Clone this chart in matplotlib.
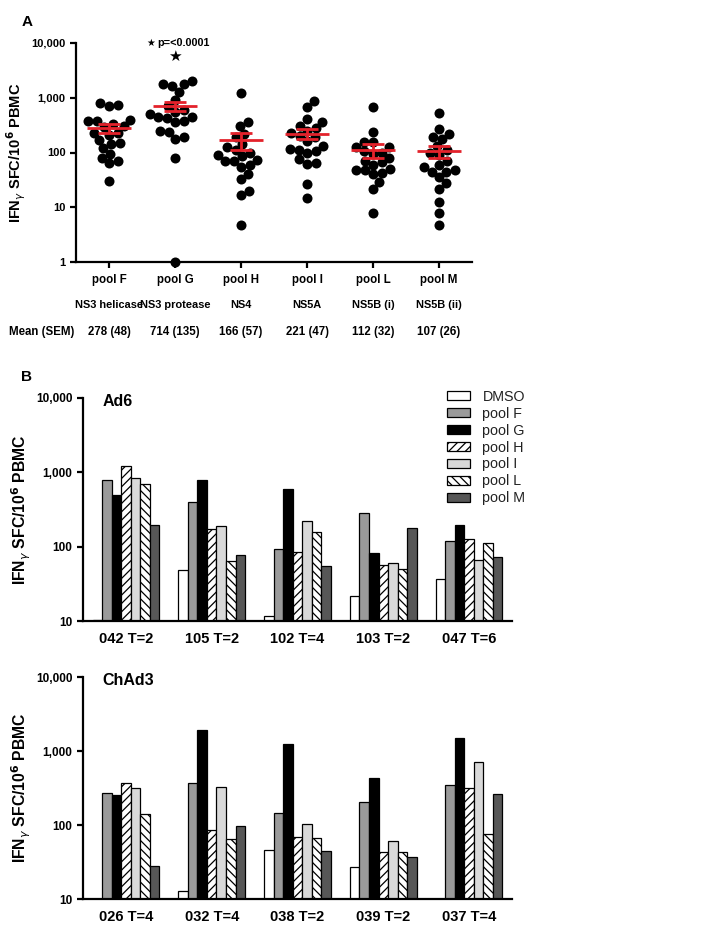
import numpy as np
import matplotlib
matplotlib.use("Agg")
import matplotlib.pyplot as plt
from matplotlib.ticker import FixedLocator, FuncFormatter, NullLocator
from matplotlib.transforms import blended_transform_factory

plt.rcParams["font.family"] = ["Liberation Sans", "DejaVu Sans"]
plt.rcParams["hatch.linewidth"] = 0.9

# ---- panel A data (IFNg SFC / 10^6 PBMC per volunteer) ----
pool_names = ["pool F", "pool G", "pool H", "pool I", "pool L", "pool M"]
regions = ["NS3 helicase", "NS3 protease", "NS4", "NS5A", "NS5B (i)", "NS5B (ii)"]
means = [278, 714, 166, 221, 112, 107]
sems = [48, 135, 57, 47, 32, 26]

pool_F = [790, 700, 750, 380, 330, 370, 400, 300, 290, 230, 210, 230, 170, 140, 150, 120, 95, 70, 63, 80, 30]
pool_G = [1800, 1650, 1750, 2000, 1270, 900, 700, 550, 440, 440, 360, 430, 600, 500, 380, 245, 190, 178, 235, 80, 1]
pool_H = [1220, 360, 310, 220, 190, 145, 125, 110, 100, 90, 85, 71, 73, 71, 60, 55, 41, 33, 19.6, 17, 4.75]
pool_I = [860, 690, 410, 360, 310, 280, 250, 230, 200, 190, 160, 130, 115, 110, 105, 97, 75, 63, 61, 27, 14.6]
pool_L = [690, 235, 155, 155, 125, 125, 105, 100, 95, 80, 70, 66, 60, 50, 48, 47, 42, 41, 29, 22, 7.8]
pool_M = [525, 270, 220, 195, 178, 130, 110, 100, 90, 70, 60, 54, 47, 44, 44, 35, 27.7, 22, 12.3, 7.8, 4.8]
pool_values = [pool_F, pool_G, pool_H, pool_I, pool_L, pool_M]

# ---- panel B data ----
stimuli = ["DMSO", "pool F", "pool G", "pool H", "pool I", "pool L", "pool M"]
ad6_groups = ["042 T=2", "105 T=2", "102 T=4", "103 T=2", "047 T=6"]
ad6_dmso = [10.3, 48, 11.7, 21.8, 37]
ad6_F = [780, 400, 93, 285, 120]
ad6_G = [490, 800, 600, 82, 197]
ad6_H = [1230, 173, 85, 56, 128]
ad6_I = [850, 192, 222, 60, 67]
ad6_L = [700, 64, 156, 50, 111]
ad6_M = [195, 78, 55, 181, 73]

chad3_groups = ["026 T=4", "032 T=4", "038 T=2", "039 T=2", "037 T=4"]
chad3_dmso = [np.nan, 12.8, 46, 26.7, np.nan]
chad3_F = [272, 364, 147, 206, 349]
chad3_G = [252, 1940, 1260, 434, 1480]
chad3_H = [364, 86.5, 69, 42.5, 318]
chad3_I = [318, 328, 102, 61.5, 710]
chad3_L = [142, 64, 66, 42.5, 75]
chad3_M = [27.5, 97, 44, 36.7, 261]

bar_face = ["white", "#9a9a9a", "black", "white", "#d9d9d9", "white", "#575757"]
bar_hatch = [None, None, None, "////", None, "\\\\\\\\", None]

red = "#e3222b"
ylabel = r"IFN$_\gamma$ SFC/10$^{\mathbf{6}}$ PBMC"
fmt = FuncFormatter(lambda v, p: f"{int(round(v)):,}")


def style_log_axis(ax, ticks, size):
    ax.set_yscale("log")
    ax.yaxis.set_major_locator(FixedLocator(ticks))
    ax.yaxis.set_minor_locator(NullLocator())
    ax.yaxis.set_major_formatter(fmt)
    for s in ["top", "right"]:
        ax.spines[s].set_visible(False)
    for s in ["left", "bottom"]:
        ax.spines[s].set_linewidth(1.6)
    ax.tick_params(width=1.6, length=4, labelsize=size)
    for lab in ax.get_yticklabels() + ax.get_xticklabels():
        lab.set_fontweight("bold")


def swarm_x(ax, xc, values, d):
    pts = ax.transData.transform(np.column_stack([np.full(len(values), xc), values]))
    ys = pts[:, 1]
    x0 = pts[0, 0]
    placed = []
    offs = np.zeros(len(values))
    for i in np.argsort(ys):
        y = ys[i]
        cands = [0.0]
        for px, py in placed:
            dy = abs(y - py)
            if dy < d:
                dx = np.sqrt(d * d - dy * dy)
                cands += [px + dx, px - dx]
        cands.sort(key=abs)
        for c in cands:
            if all((c - px) ** 2 + (y - py) ** 2 >= d * d - 1e-6 for px, py in placed):
                break
        placed.append((c, y))
        offs[i] = c
    return ax.transData.inverted().transform(np.column_stack([x0 + offs, ys]))[:, 0]


fig = plt.figure(figsize=(7.27, 9.39), dpi=100)

# ---------------- panel A ----------------
axA = fig.add_axes([76 / 727, 1 - 262 / 939, 396 / 727, 219 / 939])
axA.set_xlim(-0.5, 5.5)
axA.set_ylim(1, 10000)
style_log_axis(axA, [1, 10, 100, 1000, 10000], 8)
axA.set_xticks(range(6))
axA.set_xticklabels([])

for i, vals in enumerate(pool_values):
    xs = swarm_x(axA, i, vals, 9.0)
    axA.scatter(xs, vals, s=52, color="black", zorder=2, clip_on=False, linewidths=0)
    m, s = means[i], sems[i]
    axA.hlines(m, i - 0.33, i + 0.33, color=red, lw=2, zorder=3)
    axA.hlines([m - s, m + s], i - 0.17, i + 0.17, color=red, lw=2, zorder=3)
    axA.vlines(i, m - s, m + s, color=red, lw=2, zorder=3)

axA.set_ylabel(ylabel, fontsize=10.5, fontweight="bold")
axA.yaxis.set_label_coords(-48 / 396, 0.5)

row_size = 7.9
tr = blended_transform_factory(axA.transData, axA.transAxes)
for i in range(6):
    axA.text(i, -0.082, pool_names[i], transform=tr, ha="center", va="center",
             fontsize=row_size + 0.4, fontweight="bold")
    axA.text(i, -0.196, regions[i], transform=tr, ha="center", va="center",
             fontsize=row_size, fontweight="bold")
    axA.text(i, -0.32, f"{means[i]} ({sems[i]})", transform=tr, ha="center",
             va="center", fontsize=row_size + 0.4, fontweight="bold")
fig.text(9 / 727, 1 - 332 / 939, "Mean (SEM)", ha="left", va="center",
         fontsize=row_size + 0.4, fontweight="bold")

axA.text(1, 5600, "\u2605", ha="center", va="center", fontsize=11,
         family=["DejaVu Sans"])
axA.text(0.57, 10000, "\u2605", ha="left", va="center", fontsize=7,
         family=["DejaVu Sans"])
axA.text(0.73, 10000, "p=<0.0001", ha="left", va="center", fontsize=7.8,
         fontweight="bold")

fig.text(27 / 727, 1 - 22 / 939, "A", ha="center", va="center", fontsize=11,
         fontweight="bold")
fig.text(27 / 727, 1 - 377 / 939, "B", ha="center", va="center", fontsize=11,
         fontweight="bold")

# ---------------- panel B ----------------
w = 0.111


def bar_panel(rect, groups, series, title, legend):
    ax = fig.add_axes(rect)
    x = np.arange(len(groups))
    for j, vals in enumerate(series):
        ax.bar(x + (j - 3) * w, vals, width=w, color=bar_face[j], edgecolor="black",
               linewidth=0.9, hatch=bar_hatch[j], label=stimuli[j], zorder=2)
    ax.set_xlim(-0.5, 4.5)
    ax.set_ylim(10, 10000)
    style_log_axis(ax, [10, 100, 1000, 10000], 8.5)
    ax.set_xticks(x)
    ax.set_xticklabels(groups, fontsize=10.5, fontweight="bold")
    ax.tick_params(axis="x", length=0, pad=8)
    ax.set_ylabel(ylabel, fontsize=11.3, fontweight="bold")
    ax.yaxis.set_label_coords(-50 / 429, 0.5)
    ax.text(0.045, 0.985, title, transform=ax.transAxes, ha="left", va="center",
            fontsize=11.5, fontweight="bold")
    if legend:
        leg = ax.legend(loc="upper left", bbox_to_anchor=(447 / 727, 1 - 390 / 939),
                        bbox_transform=fig.transFigure, frameon=False,
                        borderpad=0, borderaxespad=0, labelspacing=0.2,
                        handlelength=1.58, handleheight=0.6, handletextpad=0.9,
                        prop={"size": 10.3})
        for t in leg.get_texts():
            t.set_color("#222222")
    return ax


bar_panel([83 / 727, 1 - 621 / 939, 429 / 727, 223 / 939], ad6_groups,
          [ad6_dmso, ad6_F, ad6_G, ad6_H, ad6_I, ad6_L, ad6_M], "Ad6", True)
bar_panel([83 / 727, 1 - 899 / 939, 429 / 727, 222 / 939], chad3_groups,
          [chad3_dmso, chad3_F, chad3_G, chad3_H, chad3_I, chad3_L, chad3_M],
          "ChAd3", False)

fig.savefig("out.png", dpi=100)
